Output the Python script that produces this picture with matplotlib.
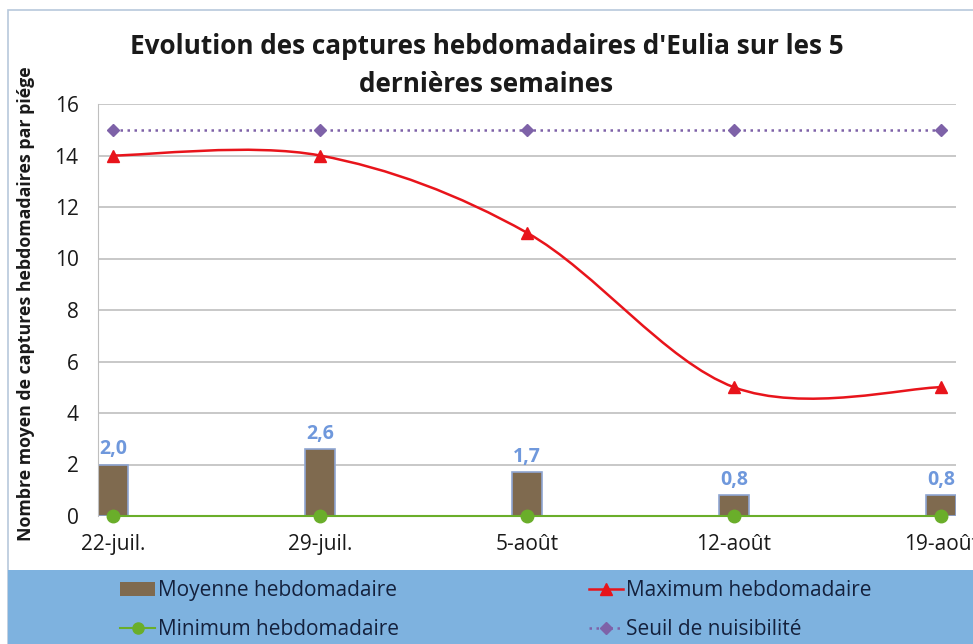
import numpy as np
import matplotlib
matplotlib.use("Agg")
import matplotlib.pyplot as plt
from matplotlib.path import Path
from matplotlib.patches import PathPatch, Rectangle
from matplotlib.lines import Line2D

plt.rcParams["font.family"] = ["Open Sans", "DejaVu Sans"]

semaines = ["22-juil.", "29-juil.", "5-août", "12-août", "19-août"]
moyenne = [2.0, 2.6, 1.7, 0.8, 0.8]
maximum = [14, 14, 11, 5, 5]
minimum = [0, 0, 0, 0, 0]
seuil = [15, 15, 15, 15, 15]

x = np.arange(len(semaines))


def smooth_path(xs, ys):
    # courbe lissée façon Excel (bezier, tangentes catmull-rom)
    pts = np.column_stack([xs, ys]).astype(float)
    n = len(pts)
    verts = [pts[0]]
    codes = [Path.MOVETO]
    for i in range(n - 1):
        p0 = pts[i - 1] if i > 0 else pts[i]
        p1, p2 = pts[i], pts[i + 1]
        p3 = pts[i + 2] if i + 2 < n else pts[i + 1]
        c1 = p1 + (p2 - p0) / 6
        c2 = p2 - (p3 - p1) / 6
        verts += [c1, c2, p2]
        codes += [Path.CURVE4] * 3
    return Path(verts, codes)


fig = plt.figure(figsize=(9.73, 6.44), dpi=100)

# cadre et bande de légende
fig.patches.append(Rectangle((8 / 973, 0), 1, 634 / 644, transform=fig.transFigure,
                             facecolor="white", edgecolor="#B8C8DC", lw=1.2, zorder=-2))
fig.patches.append(Rectangle((8 / 973, 0), 1, 74 / 644, transform=fig.transFigure,
                             facecolor="#7EB2DF", edgecolor="none", zorder=-1))

ax = fig.add_axes([98 / 973, 1 - 516 / 644, 858 / 973, 412 / 644])
ax.patch.set_alpha(0)
ax.set_xlim(-0.072, 4.072)
ax.set_ylim(0, 16)
ax.set_yticks(range(0, 17, 2))
ax.grid(axis="y", color="#BFBFBF", lw=1.2)
ax.set_axisbelow(True)
for s in ["top", "right", "bottom"]:
    ax.spines[s].set_visible(False)
ax.spines["left"].set_color("#BFBFBF")
ax.tick_params(length=0, labelsize=15)
ax.tick_params(axis="y", pad=14)
ax.tick_params(axis="x", pad=13)
ax.set_xticks(x)
ax.set_xticklabels(semaines)
for lab in ax.get_xticklabels() + ax.get_yticklabels():
    lab.set_color("#1A1A1A")

bars = ax.bar(x, moyenne, width=0.145, color="#7F6A4F", edgecolor="#8FA6D2", lw=1.2, zorder=2)
for xi, v in zip(x, moyenne):
    ax.text(xi, v + 0.2, f"{v:.1f}".replace(".", ","), ha="center", va="bottom",
            fontsize=14, fontweight="bold", color="#6F98DC")

ax.add_patch(PathPatch(smooth_path(x, maximum), facecolor="none", edgecolor="#E8141B",
                       lw=1.8, zorder=3))
ax.plot(x, maximum, ls="none", marker="^", ms=8.5, color="#E8141B", zorder=4)
ax.plot(x, minimum, color="#6AAE2A", lw=1.5, marker="o", ms=9, clip_on=False, zorder=4)
ax.plot(x, seuil, color="#7E62A8", lw=1.8, ls=(0, (1, 1.8)), marker="D", ms=6, zorder=4)

ax.set_ylabel("Nombre moyen de captures hebdomadaires par piége", fontsize=12.8,
              fontweight="bold", color="#1A1A1A")
ax.yaxis.set_label_coords(-0.074, 0.515)

fig.text(0.5, 0.948, "Evolution des captures hebdomadaires d'Eulia sur les 5\ndernières semaines",
         ha="center", va="top", fontsize=18.8, fontweight="bold", color="#1A1A1A",
         linespacing=1.5)

handles = [
    Rectangle((0, 0), 1, 1, facecolor="#7F6A4F", edgecolor="none"),
    Line2D([], [], color="#6AAE2A", lw=1.5, marker="o", ms=8),
    Line2D([], [], color="#E8141B", lw=1.8, marker="^", ms=8),
    Line2D([], [], color="#7E62A8", lw=1.8, ls=(0, (1, 1.8)), marker="D", ms=6),
]
labels = ["Moyenne hebdomadaire", "Minimum hebdomadaire", "Maximum hebdomadaire",
          "Seuil de nuisibilité"]
leg = fig.legend(handles, labels, ncol=2, loc="center left", bbox_to_anchor=(110 / 973, 34 / 644),
                 frameon=False, fontsize=15, handlelength=1.65, handletextpad=0.15,
                 columnspacing=9.1, labelspacing=0.85, borderpad=0)
for t in leg.get_texts():
    t.set_color("#14213D")

fig.savefig("out.png", dpi=100)
